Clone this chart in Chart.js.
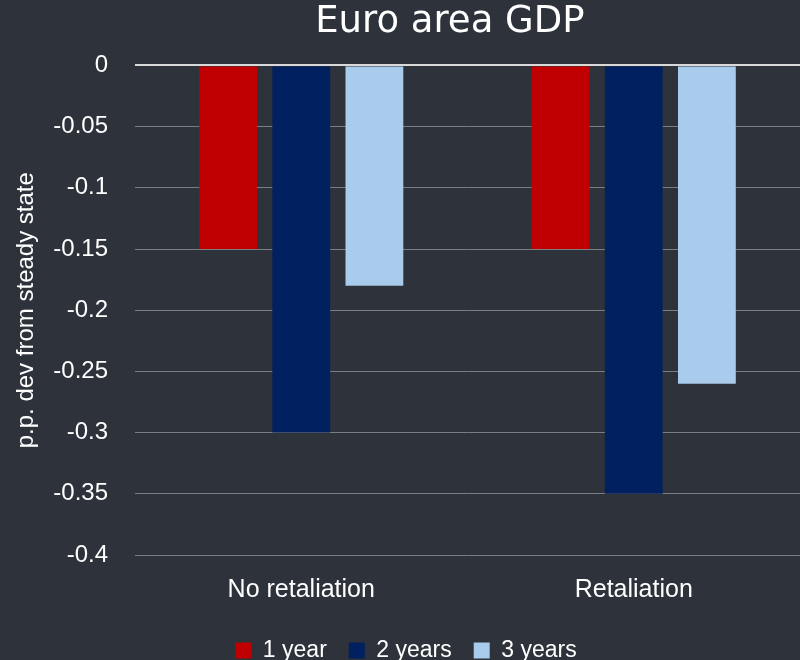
<!DOCTYPE html>
<html>
<head>
<meta charset="utf-8">
<script src="https://cdn.jsdelivr.net/npm/chart.js@4"></script>
<style>
  html, body { margin: 0; padding: 0; background: #2d323b; overflow: hidden; }
  #wrap { width: 800px; height: 660px; }
</style>
</head>
<body>
<div id="wrap"><canvas id="c1"></canvas></div>
<script>
  // data
  var categories = ['No retaliation', 'Retaliation']
  var oneYear = [-0.15, -0.15]
  var twoYears = [-0.30, -0.35]
  var threeYears = [-0.18, -0.26]
  var yTicks = [0, -0.05, -0.1, -0.15, -0.2, -0.25, -0.3, -0.35, -0.4]

  var plain = '"Liberation Sans", Arial, sans-serif'

  Chart.defaults.color = '#ffffff'

  var ctx = document.getElementById('c1')
  var chart1 = new Chart(ctx, {
    type: 'bar',
    data: {
      labels: categories,
      datasets: [{
        label: '1 year',
        data: oneYear,
        backgroundColor: '#c00000'
      }, {
        label: '2 years',
        data: twoYears,
        backgroundColor: '#002060'
      }, {
        label: '3 years',
        data: threeYears,
        backgroundColor: '#a9cbec'
      }]
    },
    options: {
      responsive: true,
      maintainAspectRatio: false,
      animation: false,
      datasets: {
        bar: { categoryPercentage: 0.66, barPercentage: 0.79 }
      },
      layout: { padding: { left: 12, right: 0, top: 0, bottom: -12 } },
      plugins: {
        title: {
          display: true,
          fullSize: false,
          // trailing spaces nudge the centred title a little left, as in the original
          text: 'Euro area GDP\u00a0\u00a0\u00a0',
          color: '#ffffff',
          font: { family: '"DejaVu Sans", sans-serif', size: 37, weight: 'normal' },
          padding: { top: 0, bottom: 21 }
        },
        legend: {
          position: 'bottom',
          labels: {
            color: '#ffffff',
            boxWidth: 16,
            boxHeight: 16,
            padding: 22,
            font: { family: plain, size: 23 }
          }
        },
        tooltip: { enabled: false }
      },
      scales: {
        x: {
          grid: { display: false },
          border: { display: false },
          ticks: {
            color: '#ffffff',
            padding: 12,
            font: { family: plain, size: 25 }
          }
        },
        y: {
          min: -0.4,
          max: 0,
          afterBuildTicks: function(axis) {
            axis.ticks = yTicks.map(function(v) { return { value: v } })
          },
          afterFit: function(axis) {
            axis.width = 123
          },
          border: { display: false },
          grid: {
            drawTicks: false,
            color: function(c) {
              return c.tick && c.tick.value === 0 ? '#d9d9d9' : '#7a7d82'
            },
            lineWidth: function(c) {
              return c.tick && c.tick.value === 0 ? 2 : 1
            }
          },
          ticks: {
            color: '#ffffff',
            padding: 27,
            font: { family: plain, size: 24 },
            callback: function(v) { return String(parseFloat(Number(v).toFixed(2))) }
          },
          title: {
            display: true,
            text: 'p.p. dev from steady state',
            color: '#ffffff',
            font: { family: plain, size: 24 },
            padding: { top: 0, bottom: 0 }
          }
        }
      }
    }
  })
</script>
</body>
</html>
